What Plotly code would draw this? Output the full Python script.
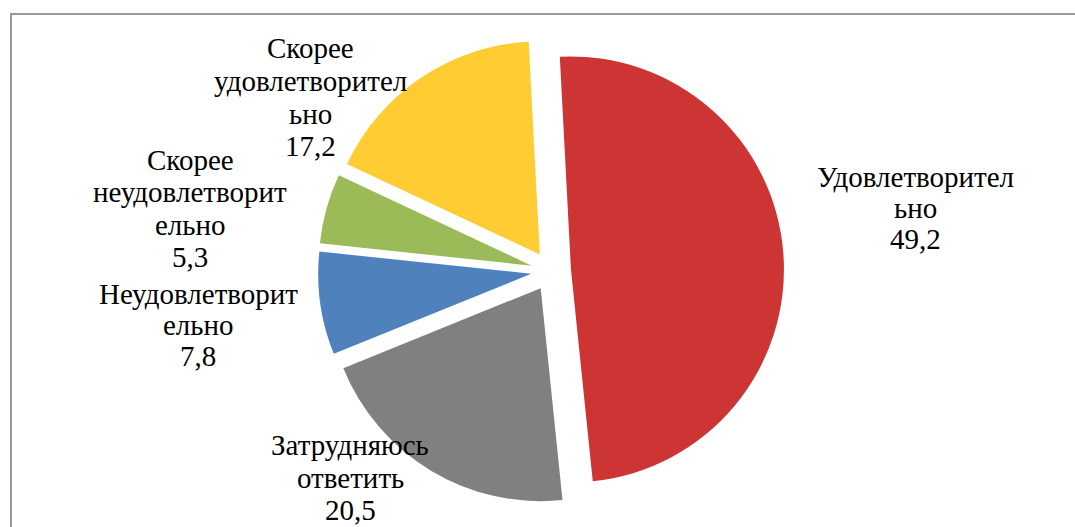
import plotly.graph_objects as go

# Survey answers, in drawing order (clockwise from the top)
categories = [
    "Удовлетворительно",
    "Затрудняюсь ответить",
    "Неудовлетворительно",
    "Скорее неудовлетворительно",
    "Скорее удовлетворительно",
]
values = [49.2, 20.5, 7.8, 5.3, 17.2]

# Wrapped label captions as they appear next to each slice
captions = [
    ["Удовлетворител", "ьно"],
    ["Затрудняюсь", "ответить"],
    ["Неудовлетворит", "ельно"],
    ["Скорее", "неудовлетворит", "ельно"],
    ["Скорее", "удовлетворител", "ьно"],
]

colors = ["#CD3434", "#808080", "#4F81BD", "#9BBB59", "#FFCC33"]

W, H = 1075, 527

# Caption placement in pixels: block centre x, first-line baseline y, line step
label_cx = [915, 350, 198, 190, 310]
label_base = [187, 455, 304, 170, 58]
label_step = [31, 32.5, 31, 32.3, 32.7]

cx, cy, half = 551, 271, 233
SERIF = "Liberation Serif"
FONT_SIZE = 29

fig = go.Figure(
    go.Pie(
        labels=categories,
        values=values,
        sort=False,
        direction="clockwise",
        rotation=-3,
        pull=[0.094] * len(values),
        marker=dict(colors=colors, line=dict(width=0)),
        textinfo="none",
        hoverinfo="label+value",
        showlegend=False,
        domain=dict(
            x=[(cx - half) / W, (cx + half) / W],
            y=[1 - (cy + half) / H, 1 - (cy - half) / H],
        ),
    )
)

# One annotation per text line so the line step can be set freely
for cap, v, lx, base, step in zip(captions, values, label_cx, label_base, label_step):
    lines = cap + [f"{v:.1f}".replace(".", ",")]
    for k, line in enumerate(lines):
        baseline = base + k * step
        mid = baseline - 0.34 * FONT_SIZE
        fig.add_annotation(
            x=lx / W, y=1 - mid / H, xref="paper", yref="paper",
            text=line, showarrow=False, align="center",
            xanchor="center", yanchor="middle",
            font=dict(family=SERIF, size=FONT_SIZE, color="#000000"),
        )

# Chart frame (continues past the right and bottom edges)
fig.add_shape(
    type="rect", xref="paper", yref="paper",
    x0=11 / W, x1=1.05, y0=-0.05, y1=1 - 14 / H,
    line=dict(color="#9A9A9A", width=2), fillcolor="rgba(0,0,0,0)",
    layer="below",
)

fig.update_layout(
    width=W, height=H,
    margin=dict(l=0, r=0, t=0, b=0),
    paper_bgcolor="white", plot_bgcolor="white",
    font=dict(family=SERIF),
)

fig.write_html("out.html")
